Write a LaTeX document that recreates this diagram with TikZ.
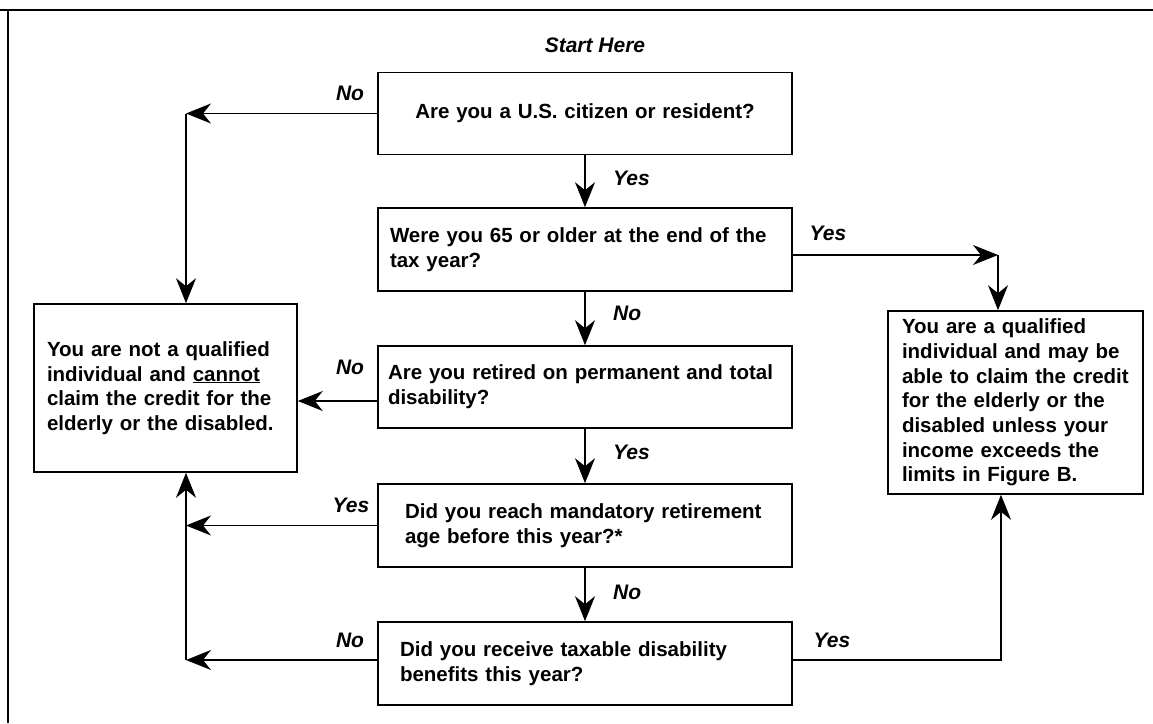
\documentclass[tikz,border=0pt]{standalone}
\usepackage{fontspec}
\setmainfont{Liberation Sans}
\usetikzlibrary{arrows.meta}
\begin{document}
\begin{tikzpicture}[x=1pt,y=-1pt,
  box/.style={draw, line width=1.6pt, minimum width=414pt, minimum height=82pt,
    font=\fontsize{20.5}{25}\selectfont\bfseries, inner ysep=0pt},
  lbox/.style={box, align=left, inner xsep=#1, text width=414pt-2*#1},
  lab/.style={font=\fontsize{21}{25}\selectfont\bfseries\itshape, inner sep=0pt},
  arr/.style={line width=1.6pt, -{Stealth[length=25pt,width=20pt,inset=8pt]}},
  conn/.style={line width=1.6pt}
]
\useasboundingbox (0,0) rectangle (1153,723);
% frame
\draw[line width=1.4pt] (0,10) -- (1153,10);
\draw[line width=1.2pt] (8,10) -- (8,723);

\node[lab] (start) at (595,45) {Start Here};

\node[box, align=center, text width=390pt] (b1) at (585,113.5) {Are you a U.S. citizen or resident?};
\node[lbox=12pt, minimum height=83pt] (b2) at (585,249.5) {Were you 65 or older at the end of the\\tax year?};
\node[lbox=10pt] (b3) at (585,387) {Are you retired on permanent and total\\disability?};
\node[lbox=27pt, minimum height=83pt] (b4) at (585,525.5) {Did you reach mandatory retirement\\age before this year?*};
\node[lbox=22pt, minimum height=83pt] (b5) at (585,663.5) {Did you receive taxable disability\\benefits this year?};

\node[draw, line width=1.6pt, minimum width=263pt, minimum height=168pt, inner xsep=13pt,
  text width=237pt, align=left, font=\fontsize{20.5}{24.5}\selectfont\bfseries] (lb) at (165.5,388)
  {You are not a qualified\\individual and \underline{cannot}\\claim the credit for the\\elderly or the disabled.};
\node[draw, line width=1.6pt, minimum width=255pt, minimum height=183pt, inner xsep=14pt,
  text width=227pt, align=left, font=\fontsize{20.5}{24.7}\selectfont\bfseries] (rb) at (1015.5,402.5)
  {You are a qualified\\individual and may be\\able to claim the credit\\for the elderly or the\\disabled unless your\\income exceeds the\\limits in Figure B.};

% coordinates
\coordinate (n1) at (186,113.5);
\coordinate (n2) at (998,255);
\coordinate (y3) at (0,401);
\coordinate (y5) at (0,660);
\coordinate (n4) at (1001,660);

% center arrows
\draw[arr] (b1) -- (b2);
\draw[arr] (b2) -- (b3);
\draw[arr] (b3) -- (b4);
\draw[arr] (b4) -- (b5);

% left side
\draw[arr] (b1.west) -- (n1);
\draw[arr] (n1) -- (n1 |- lb.north);
\draw[arr] (b3.west |- y3) -- (lb.east |- y3);
\draw[arr] (b4.west) -- (n1 |- b4.west);
\draw[arr] (b5.west |- y5) -- (n1 |- y5);
\draw[arr] (n1 |- y5) -- (n1 |- lb.south);

% right side
\draw[arr] (b2.east |- n2) -- (n2);
\draw[arr] (n2) -- (n2 |- rb.north);
\draw[arr] (b5.east |- n4) -- (n4) -- (n4 |- rb.south);

% labels
\node[lab] (l1) at (350,93) {No};
\node[lab, anchor=west] (l2) at (613,178) {Yes};
\node[lab] (l3) at (828,233) {Yes};
\node[lab, anchor=west] (l4) at (613,313) {No};
\node[lab] (l5) at (350,367) {No};
\node[lab, anchor=west] (l6) at (613,452) {Yes};
\node[lab] (l7) at (351,505) {Yes};
\node[lab, anchor=west] (l8) at (613,592) {No};
\node[lab] (l9) at (350,640) {No};
\node[lab] (l10) at (832,640) {Yes};
\end{tikzpicture}
\end{document}
